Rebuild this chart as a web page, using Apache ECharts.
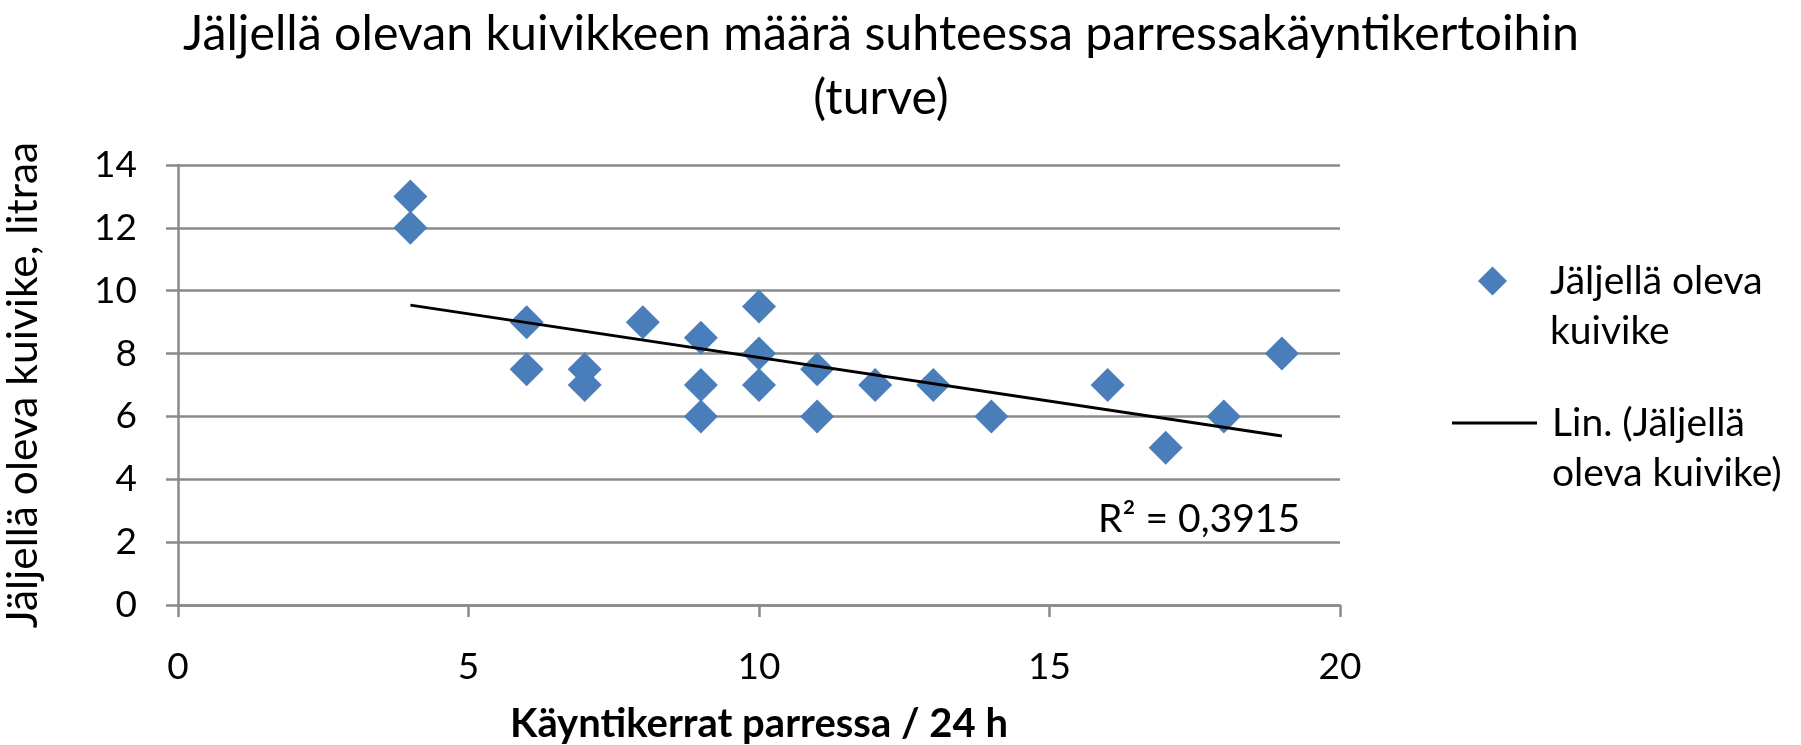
<!DOCTYPE html>
<html>
<head>
<meta charset="utf-8">
<script src="https://cdn.jsdelivr.net/npm/echarts@6/dist/echarts.min.js"></script>
<style>
  html, body { margin: 0; padding: 0; background: #fff; }
  #chart { width: 1801px; height: 745px; }
</style>
</head>
<body>
<div id="chart"></div>
<script>
// käyntikerrat parressa / 24 h
const visitCounts = [4, 4, 6, 6, 7, 7, 8, 9, 9, 9, 10, 10, 10, 11, 11, 12, 13, 14, 16, 17, 18, 19]
// jäljellä oleva kuivike, litraa
const beddingLeft = [13, 12, 9, 7.5, 7.5, 7, 9, 8.5, 7, 6, 9.5, 8, 7, 7.5, 6, 7, 7, 6, 7, 5, 6, 8]
const xTicks = [0, 5, 10, 15, 20]
const yTicks = [0, 2, 4, 6, 8, 10, 12, 14]

const seriesName = 'Jäljellä oleva kuivike'
const trendName = 'Lin. (Jäljellä oleva kuivike)'
const legendLines = {
  'Jäljellä oleva kuivike': ['Jäljellä oleva', 'kuivike'],
  'Lin. (Jäljellä oleva kuivike)': ['Lin. (Jäljellä', 'oleva kuivike)']
}

const FONT = 'Lato'
const GRID_COLOR = '#8a8a8a'

// linear trend (least squares), like excel's trendline
function linearFit(xs, ys) {
  const n = xs.length
  let sx = 0, sy = 0, sxx = 0, sxy = 0, syy = 0
  for (let i = 0; i < n; i++) {
    sx += xs[i]; sy += ys[i]
    sxx += xs[i] * xs[i]; sxy += xs[i] * ys[i]; syy += ys[i] * ys[i]
  }
  const slope = (n * sxy - sx * sy) / (n * sxx - sx * sx)
  const intercept = (sy - slope * sx) / n
  const r = (n * sxy - sx * sy) / Math.sqrt((n * sxx - sx * sx) * (n * syy - sy * sy))
  return { slope, intercept, r2: r * r }
}

const fit = linearFit(visitCounts, beddingLeft)
const xMin = Math.min(...visitCounts)
const xMax = Math.max(...visitCounts)
const trendData = [
  [xMin, fit.intercept + fit.slope * xMin],
  [xMax, fit.intercept + fit.slope * xMax]
]
const r2Text = 'R² = ' + fit.r2.toFixed(4).replace('.', ',')

const chart = echarts.init(document.getElementById('chart'), null, { renderer: 'canvas' })

const legendText = {
  fontFamily: FONT,
  fontSize: 39,
  color: '#000',
  lineHeight: 50
}

chart.setOption({
  animation: false,
  title: {
    text: 'Jäljellä olevan kuivikkeen määrä suhteessa parressakäyntikertoihin\n(turve)',
    left: 881,
    top: 2,
    padding: 0,
    textAlign: 'center',
    textStyle: {
      fontFamily: FONT,
      fontSize: 48.3,
      fontWeight: 'normal',
      color: '#000',
      lineHeight: 64
    }
  },
  legend: [{
    data: [{ name: seriesName, icon: 'diamond' }],
    orient: 'vertical',
    left: 1478,
    top: 206,
    padding: 0,
    itemWidth: 29,
    itemHeight: 29,
    selectedMode: false,
    formatter: name => '\u00a0\n' + legendLines[name].join('\n'),
    textStyle: Object.assign({ padding: [0, 0, 0, 38] }, legendText)
  }, {
    data: [{ name: trendName, icon: 'rect' }],
    orient: 'vertical',
    left: 1452,
    top: 348,
    padding: 0,
    itemWidth: 85,
    itemHeight: 3,
    selectedMode: false,
    formatter: name => '\u00a0\n' + legendLines[name].join('\n'),
    textStyle: Object.assign({ padding: [0, 0, 0, 10] }, legendText)
  }],
  grid: {
    left: 178,
    right: 461,
    top: 165,
    bottom: 140,
    containLabel: false,
    outerBoundsMode: 'none'
  },
  xAxis: {
    type: 'value',
    min: xTicks[0],
    max: xTicks[xTicks.length - 1],
    interval: xTicks[1] - xTicks[0],
    name: 'Käyntikerrat parressa / 24 h',
    nameLocation: 'middle',
    nameGap: 99,
    nameTextStyle: {
      fontFamily: FONT,
      fontSize: 40,
      fontWeight: 'bold',
      color: '#000'
    },
    axisLine: { show: true, lineStyle: { color: GRID_COLOR, width: 2.5 } },
    axisTick: { show: true, length: 12, lineStyle: { color: GRID_COLOR, width: 2.5 } },
    axisLabel: {
      margin: 44,
      fontFamily: FONT,
      fontSize: 37,
      color: '#000'
    },
    splitLine: { show: false }
  },
  yAxis: {
    type: 'value',
    min: yTicks[0],
    max: yTicks[yTicks.length - 1],
    interval: yTicks[1] - yTicks[0],
    name: 'Jäljellä oleva kuivike, litraa',
    nameLocation: 'middle',
    nameGap: 133,
    nameTextStyle: {
      fontFamily: FONT,
      fontSize: 42.5,
      color: '#000'
    },
    axisLine: { show: true, lineStyle: { color: GRID_COLOR, width: 2.5 } },
    axisTick: { show: true, length: 12, lineStyle: { color: GRID_COLOR, width: 2.5 } },
    axisLabel: {
      margin: 41,
      fontFamily: FONT,
      fontSize: 37,
      color: '#000'
    },
    splitLine: { show: true, lineStyle: { color: GRID_COLOR, width: 2.5 } }
  },
  series: [{
    name: seriesName,
    type: 'scatter',
    symbol: 'diamond',
    symbolSize: 34,
    itemStyle: { color: '#4a7ebb', opacity: 1 },
    data: visitCounts.map((x, i) => [x, beddingLeft[i]]),
    z: 3
  }, {
    name: trendName,
    type: 'line',
    symbol: 'none',
    data: trendData,
    lineStyle: { color: '#000', width: 3 },
    itemStyle: { color: '#000' },
    z: 4
  }],
  graphic: [{
    type: 'text',
    x: 1098,
    y: 519,
    style: {
      text: r2Text,
      fontFamily: FONT,
      fontSize: 39,
      fill: '#000',
      verticalAlign: 'middle'
    }
  }]
})
</script>
</body>
</html>
